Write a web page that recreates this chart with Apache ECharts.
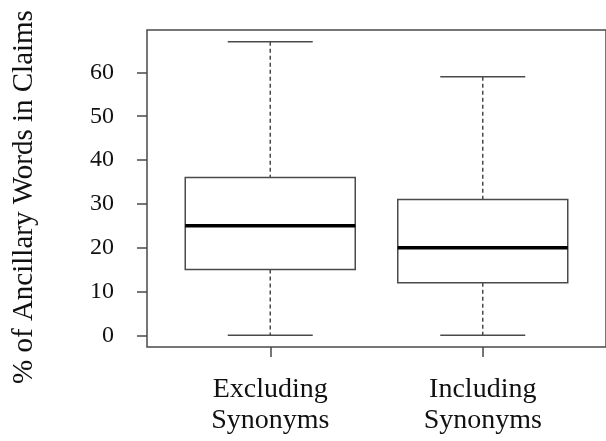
<!DOCTYPE html>
<html>
<head>
<meta charset="utf-8">
<script src="https://cdn.jsdelivr.net/npm/echarts@6/dist/echarts.min.js"></script>
<style>html,body{margin:0;padding:0;background:#fff;}#c{width:606px;height:441px;}</style>
</head>
<body>
<div id="c"></div>
<script>
// Data
var categories = ['Excluding\nSynonyms', 'Including\nSynonyms'];
var positions = [1, 2];
var lowerWhisker = [0, 0];
var q1 = [15, 12];
var median = [25, 20];
var q3 = [36, 31];
var upperWhisker = [67, 59];
var yTicks = [0, 10, 20, 30, 40, 50, 60];
var yTitle = '% of Ancillary Words in Claims';

var FONT = '"Liberation Serif", "Times New Roman", serif';
var LINE = '#4a4a4a';
var TEXT = '#111';

var data = positions.map(function (p, i) {
  return [p, lowerWhisker[i], q1[i], median[i], q3[i], upperWhisker[i]];
});

var chart = echarts.init(document.getElementById('c'), null, {renderer: 'canvas'});
chart.setOption({
  animation: false,
  backgroundColor: '#fff',
  grid: {left: 147, top: 30, right: -7, bottom: 94, show: true, borderColor: LINE, borderWidth: 1.5, backgroundColor: 'transparent'},
  xAxis: {
    type: 'value', min: 0.42, max: 2.58, position: 'bottom',
    splitLine: {show: false},
    axisLine: {show: false, onZero: false},
    axisTick: {show: true, inside: false, length: 10, customValues: positions, lineStyle: {color: LINE, width: 1.5}},
    axisLabel: {
      show: true, customValues: positions, margin: 27,
      formatter: function (v) { return categories[positions.indexOf(v)] || ''; },
      fontFamily: FONT, fontSize: 28, lineHeight: 31, color: TEXT
    }
  },
  yAxis: {
    type: 'value', min: -2.68, max: 69.68, position: 'left',
    splitLine: {show: false},
    axisLine: {show: false, onZero: false},
    axisTick: {show: true, inside: false, length: 10, customValues: yTicks, lineStyle: {color: LINE, width: 1.5}},
    axisLabel: {show: true, customValues: yTicks, margin: 33, fontFamily: FONT, fontSize: 24, color: TEXT}
  },
  graphic: [{
    type: 'text', x: 24, y: 197, rotation: Math.PI / 2,
    style: {text: yTitle, fontFamily: FONT, fontSize: 29, fill: TEXT, align: 'center', verticalAlign: 'middle'}
  }],
  series: [{
    type: 'custom',
    data: data,
    encode: {x: 0, y: [1, 2, 3, 4, 5]},
    renderItem: function (params, api) {
      var x = api.value(0);
      var lo = api.value(1), a = api.value(2), m = api.value(3), b = api.value(4), hi = api.value(5);
      var hw = 0.4, cw = 0.2;
      var pLT = api.coord([x - hw, b]);
      var pRB = api.coord([x + hw, a]);
      var pMedL = api.coord([x - hw, m]);
      var pMedR = api.coord([x + hw, m]);
      var pHi = api.coord([x, hi]);
      var pLo = api.coord([x, lo]);
      var pB = api.coord([x, b]);
      var pA = api.coord([x, a]);
      var capHiL = api.coord([x - cw, hi]), capHiR = api.coord([x + cw, hi]);
      var capLoL = api.coord([x - cw, lo]), capLoR = api.coord([x + cw, lo]);
      var solid = {stroke: LINE, lineWidth: 1.5, fill: null};
      var dashed = {stroke: LINE, lineWidth: 1.5, lineDash: [4, 3]};
      return {
        type: 'group',
        children: [
          {type: 'line', shape: {x1: pHi[0], y1: pHi[1], x2: pB[0], y2: pB[1]}, style: dashed},
          {type: 'line', shape: {x1: pA[0], y1: pA[1], x2: pLo[0], y2: pLo[1]}, style: dashed},
          {type: 'line', shape: {x1: capHiL[0], y1: capHiL[1], x2: capHiR[0], y2: capHiR[1]}, style: solid},
          {type: 'line', shape: {x1: capLoL[0], y1: capLoL[1], x2: capLoR[0], y2: capLoR[1]}, style: solid},
          {type: 'rect', shape: {x: pLT[0], y: pLT[1], width: pRB[0] - pLT[0], height: pRB[1] - pLT[1]}, style: {stroke: LINE, lineWidth: 1.5, fill: '#fff'}},
          {type: 'line', shape: {x1: pMedL[0], y1: pMedL[1], x2: pMedR[0], y2: pMedR[1]}, style: {stroke: '#000', lineWidth: 3.5}}
        ]
      };
    }
  }]
});
</script>
</body>
</html>
